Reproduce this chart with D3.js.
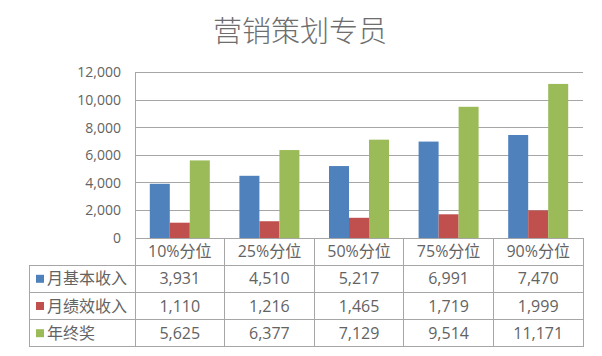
<!DOCTYPE html>
<html><head><meta charset="utf-8">
<script src="https://cdn.jsdelivr.net/npm/d3@7"></script>
<style>
html,body{margin:0;padding:0;background:#fff;}
svg text{font-family:"Open Sans","Noto Sans CJK SC",sans-serif;fill:#636363;}
</style></head>
<body><svg id="c" width="602" height="356"></svg>
<script>
const title = "营销策划专员";
const categories = ["10%分位","25%分位","50%分位","75%分位","90%分位"];
const seriesNames = ["月基本收入","月绩效收入","年终奖"];
const baseIncome = [3931,4510,5217,6991,7470];
const perfIncome = [1110,1216,1465,1719,1999];
const yearBonus = [5625,6377,7129,9514,11171];
const yTicks = [0,2000,4000,6000,8000,10000,12000];
const colors = ["#4F81BD","#C0504D","#9BBB59"];
const seriesValues = [baseIncome, perfIncome, yearBonus];

const svg = d3.select("#c");
const L = 135, R = 583, T = 72.5, B = 238;
const tableLeft = 29, rowH = 27.2;
const lineColor = "#a6a6a6";

const x0 = d3.scaleBand().domain(categories).range([L, R]).padding(0);
const x1 = d3.scaleBand().domain(seriesNames).range([0, x0.bandwidth()]).paddingInner(0).paddingOuter(0.74);
const y = d3.scaleLinear().domain([0, 12000]).range([B, T]);
const fmt = d3.format(",");

// title
svg.append("text").attr("x", 300).attr("y", 42).attr("text-anchor","middle")
  .style("font-family", "'Noto Sans CJK SC'").style("font-weight", 200)
  .style("font-size","29px").style("fill","#6e6e6e").text(title);

// gridlines
svg.append("g").selectAll("line").data(yTicks.filter(d=>d>0)).join("line")
  .attr("x1", L).attr("x2", R).attr("y1", d=>y(d)).attr("y2", d=>y(d))
  .attr("stroke", lineColor).attr("stroke-width",1).attr("shape-rendering","crispEdges");

// y axis
const yAxis = d3.axisLeft(y).tickValues(yTicks).tickFormat(fmt).tickSize(0).tickPadding(14);
const ga = svg.append("g").attr("transform", `translate(${L},0)`).call(yAxis);
ga.select(".domain").attr("stroke", lineColor).attr("shape-rendering","crispEdges");
ga.selectAll("text").style("font-size","14px").style("fill","#636363").style("font-family","'Open Sans'");

// bars
const groups = svg.append("g").selectAll("g").data(categories).join("g")
  .attr("transform", d=>`translate(${x0(d)},0)`);
groups.selectAll("rect").data((c,i)=>seriesNames.map((s,j)=>({s, v: seriesValues[j][i], j}))).join("rect")
  .attr("x", d=>x1(d.s)).attr("width", x1.bandwidth())
  .attr("y", d=>y(d.v)).attr("height", d=>B - y(d.v))
  .attr("fill", d=>colors[d.j]);

// table
const tg = svg.append("g").attr("shape-rendering","crispEdges");
const tableBottom = B + rowH * 4;
tg.append("line").attr("x1", L).attr("x2", R).attr("y1", B).attr("y2", B).attr("stroke", lineColor);
d3.range(1,5).forEach(k=>{
  tg.append("line").attr("x1", tableLeft).attr("x2", R).attr("y1", B + rowH*k).attr("y2", B + rowH*k).attr("stroke", lineColor);
});
categories.forEach(c=>{
  tg.append("line").attr("x1", x0(c)).attr("x2", x0(c)).attr("y1", B).attr("y2", tableBottom).attr("stroke", lineColor);
});
tg.append("line").attr("x1", R).attr("x2", R).attr("y1", B).attr("y2", tableBottom).attr("stroke", lineColor);
tg.append("line").attr("x1", tableLeft).attr("x2", tableLeft).attr("y1", B+rowH).attr("y2", tableBottom).attr("stroke", lineColor);

// header labels
svg.append("g").selectAll("text").data(categories).join("text")
  .attr("x", d=>x0(d)+x0.bandwidth()/2).attr("y", B + rowH/2 + 5.5)
  .attr("text-anchor","middle").style("font-size","16px").text(d=>d);

// rows
seriesNames.forEach((s,j)=>{
  const cy = B + rowH*(j+1) + rowH/2;
  svg.append("rect").attr("x", 36).attr("y", cy-4).attr("width", 8).attr("height", 8).attr("fill", colors[j]);
  svg.append("text").attr("x", 47).attr("y", cy + 5.5).style("font-size","16px")
    .style("font-family","'Noto Sans CJK SC'").text(s);
  svg.append("g").selectAll("text").data(seriesValues[j]).join("text")
    .attr("x", (d,i)=>x0(categories[i]) + x0.bandwidth()/2).attr("y", cy + 5.5)
    .attr("text-anchor","middle").style("font-size","16px").text(d=>fmt(d));
});
</script></body></html>
